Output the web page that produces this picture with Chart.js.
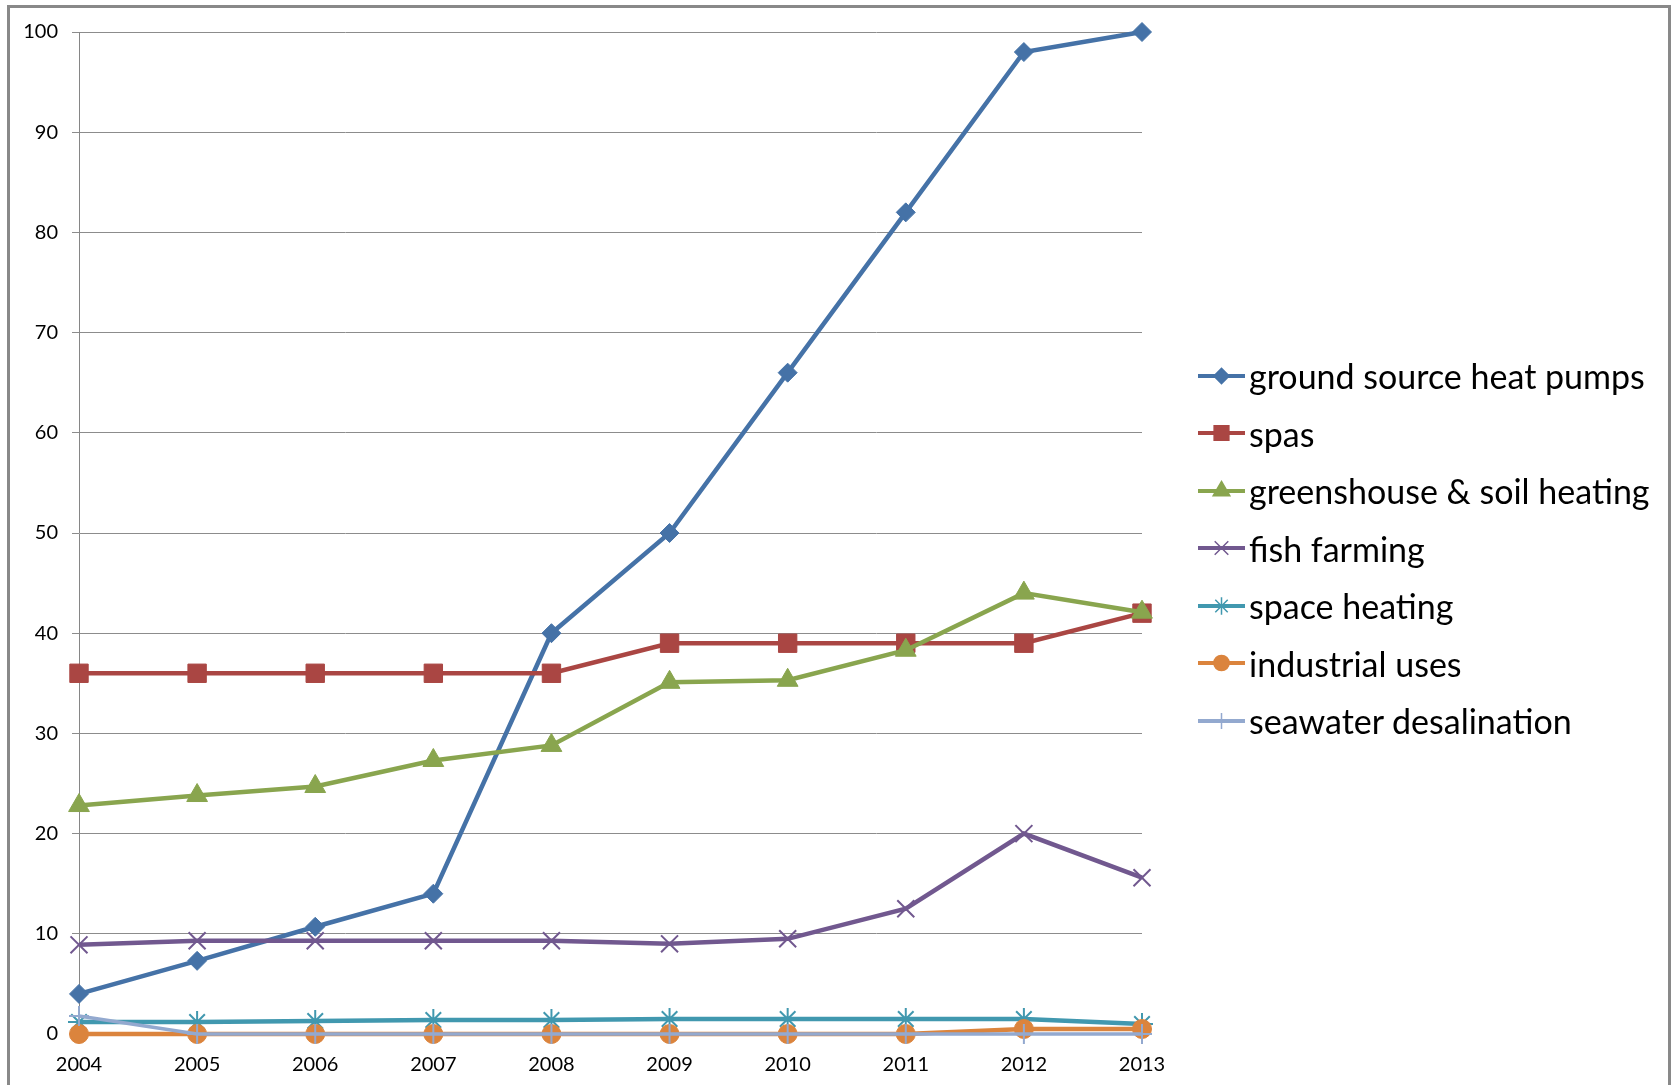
<!DOCTYPE html>
<html>
<head>
<meta charset="utf-8">
<script src="https://cdn.jsdelivr.net/npm/chart.js@4/dist/chart.umd.min.js"></script>
<style>
    body { margin: 0; background: #fff; }
    #wrap { position: relative; width: 1677px; height: 1085px; overflow: hidden; }
    #legend { position: absolute; left: 1198px; top: 347px; font-family: Lato, sans-serif; font-size: 34px; color: #000; }
    #legend .row { height: 57.5px; display: flex; align-items: center; white-space: nowrap; }
    #legend canvas { margin-right: 4px; }
</style>
</head>
<body>
<div id="wrap">
    <canvas id="chartLine" width="1677" height="1085"></canvas>
    <div id="legend"></div>
</div>
<script>
var years = ['2004', '2005', '2006', '2007', '2008', '2009', '2010', '2011', '2012', '2013'];
var seriesNames = ['ground source heat pumps', 'spas', 'greenshouse & soil heating', 'fish farming',
    'space heating', 'industrial uses', 'seawater desalination'];
var groundSource = [4, 7.3, 10.7, 14, 40, 50, 66, 82, 98, 100];
var spas = [36, 36, 36, 36, 36, 39, 39, 39, 39, 42];
var greenhouse = [22.8, 23.8, 24.7, 27.3, 28.8, 35.1, 35.3, 38.3, 44, 42.1];
var fishFarming = [8.9, 9.3, 9.3, 9.3, 9.3, 9.0, 9.5, 12.5, 20, 15.6];
var spaceHeating = [1.2, 1.2, 1.3, 1.4, 1.4, 1.5, 1.5, 1.5, 1.5, 1.0];
var industrial = [0, 0, 0, 0, 0, 0, 0, 0, 0.5, 0.5];
var desalination = [1.8, 0, 0, 0, 0, 0, 0, 0, 0, 0];
var yTicks = [0, 10, 20, 30, 40, 50, 60, 70, 80, 90, 100];

var colors = ['#4572A7', '#AA4643', '#89A54E', '#71588F', '#4198AF', '#DB843D', '#93A9CF'];
var styles = ['rectRot', 'rect', 'triangle', 'crossRot', 'star', 'circle', 'cross'];
var radii = [9.5, 13, 12, 12, 11, 9.5, 10];
var values = [groundSource, spas, greenhouse, fishFarming, spaceHeating, industrial, desalination];

var datasets = [];
for (var i = 0; i < values.length; i++) {
    var open = styles[i] === 'crossRot' || styles[i] === 'star' || styles[i] === 'cross';
    datasets.push({
        label: seriesNames[i],
        data: values[i],
        borderColor: colors[i],
        backgroundColor: colors[i],
        borderWidth: i === 6 ? 3.5 : 4.5,
        pointStyle: styles[i],
        pointRadius: radii[i],
        pointBorderWidth: open ? 2 : 1,
        pointBorderColor: colors[i],
        pointBackgroundColor: colors[i],
        tension: 0,
        clip: false,
        order: 10 - i
    });
}

var frame = {
    id: 'frame',
    beforeDraw: function(chart) {
        var ctx = chart.ctx;
        ctx.save();
        ctx.strokeStyle = '#898989';
        ctx.lineWidth = 3;
        ctx.strokeRect(8.5, 6.5, 1661, 1090);
        ctx.restore();
    }
};

var chart = new Chart(document.getElementById('chartLine'), {
    type: 'line',
    data: { labels: years, datasets: datasets },
    options: {
        responsive: false,
        animation: false,
        devicePixelRatio: 1,
        layout: { padding: { left: 0, top: 32, right: 535, bottom: 0 } },
        plugins: { legend: { display: false }, tooltip: { enabled: false } },
        scales: {
            x: {
                offset: false,
                grid: { display: false },
                border: { display: true, color: '#868686', width: 1 },
                ticks: { color: '#000', padding: 11, maxRotation: 0, font: { family: 'Lato', size: 20 } },
                afterFit: function(scale) { scale.height = 51; }
            },
            y: {
                min: 0,
                max: 100,
                afterBuildTicks: function(scale) {
                    scale.ticks = yTicks.map(function(v) { return { value: v }; });
                },
                grid: { color: '#8c8c8c', lineWidth: 1, tickLength: 7 },
                border: { display: true, color: '#868686', width: 1 },
                ticks: { color: '#000', padding: 14, font: { family: 'Lato', size: 20 } },
                afterFit: function(scale) { scale.width = 79; }
            }
        }
    },
    plugins: [frame]
});

// legend drawn in HTML with small marker icons
var legend = document.getElementById('legend');
for (var k = 0; k < seriesNames.length; k++) {
    var row = document.createElement('div');
    row.className = 'row';
    var icon = document.createElement('canvas');
    icon.width = 47;
    icon.height = 26;
    var c = icon.getContext('2d');
    c.strokeStyle = colors[k];
    c.lineWidth = 4;
    c.beginPath();
    c.moveTo(0, 13);
    c.lineTo(47, 13);
    c.stroke();
    c.fillStyle = colors[k];
    c.lineWidth = 1.5;
    Chart.helpers.drawPoint(c, { pointStyle: styles[k], radius: radii[k] * 0.8, rotation: 0, borderWidth: 1.5 }, 23.5, 13);
    row.appendChild(icon);
    var txt = document.createElement('span');
    txt.textContent = seriesNames[k];
    row.appendChild(txt);
    legend.appendChild(row);
}
</script>
</body>
</html>
